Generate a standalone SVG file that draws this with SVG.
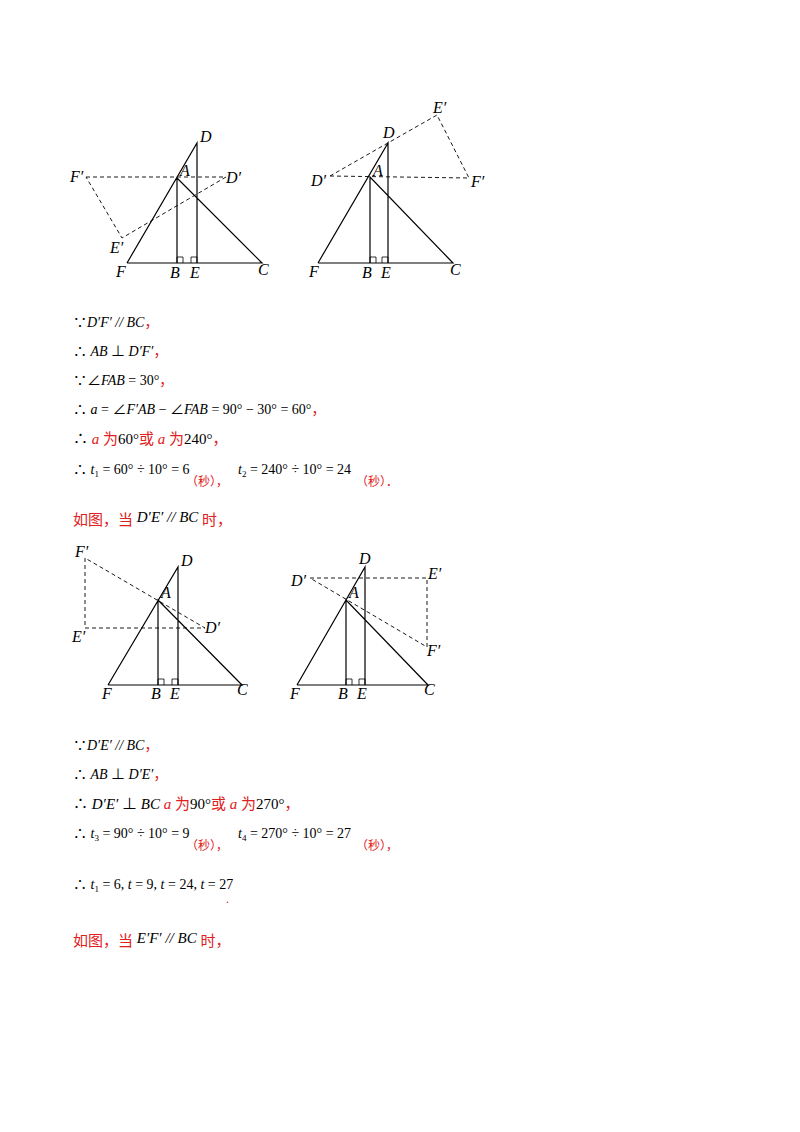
<svg xmlns="http://www.w3.org/2000/svg" width="800" height="1132" viewBox="0 0 800 1132">
<style>
.s{stroke:#000;stroke-width:1.2;fill:none}
.d{stroke:#000;stroke-width:0.9;fill:none;stroke-dasharray:4 3}
.r{stroke:#000;stroke-width:0.8;fill:none}
.l{font-family:"Liberation Serif",serif;font-style:italic;font-size:16px}
.t{font-family:"Liberation Serif","Noto Sans CJK SC",serif;font-size:14px}
.i{font-style:italic}
.red{fill:#e02020}
</style>
<rect width="800" height="1132" fill="#fff"/>
<g id="fig1">
<path class="s" d="M127 263L197 143V263M127 263H262L177 178V263"/>
<path class="r" d="M177 263v-6h6v6M197 263v-6h-6v6"/>
<path class="d" d="M86 177H226L122 238Z"/>
<text class="l" x="200" y="142">D</text><text class="l" x="180" y="176">A</text>
<text class="l" x="70" y="182">F′</text><text class="l" x="226" y="183">D′</text>
<text class="l" x="110" y="253">E′</text><text class="l" x="116" y="277">F</text>
<text class="l" x="170" y="278">B</text><text class="l" x="190" y="278">E</text><text class="l" x="258" y="275">C</text>
</g>
<g id="fig2">
<path class="s" d="M318 263L388 143V263M318 263H453L370 177V263"/>
<path class="r" d="M370 263v-6h6v6M388 263v-6h-6v6"/>
<path class="d" d="M330 176L469 178L437 115Z"/>
<text class="l" x="383" y="138">D</text><text class="l" x="373" y="176">A</text>
<text class="l" x="311" y="186">D′</text><text class="l" x="471" y="187">F′</text>
<text class="l" x="433" y="113">E′</text><text class="l" x="309" y="277">F</text>
<text class="l" x="362" y="278">B</text><text class="l" x="381" y="278">E</text><text class="l" x="450" y="275">C</text>
</g>
<g id="text1" class="t">
<text x="73" y="327">∵<tspan class="i">D′F′ // BC</tspan><tspan class="red">，</tspan></text>
<text x="73" y="356">∴ <tspan class="i">AB</tspan> ⊥ <tspan class="i">D′F′</tspan><tspan class="red">，</tspan></text>
<text x="73" y="385">∵∠<tspan class="i">FAB</tspan> = 30°<tspan class="red">，</tspan></text>
<text x="73" y="414">∴ <tspan class="i">a</tspan> = ∠<tspan class="i">F′AB</tspan> − ∠<tspan class="i">FAB</tspan> = 90° − 30° = 60°<tspan class="red">，</tspan></text>
<text x="73" y="444" font-size="15"><tspan>∴ </tspan><tspan class="red i">a</tspan><tspan class="red"> 为</tspan>60°<tspan class="red">或 </tspan><tspan class="red i">a</tspan><tspan class="red"> 为</tspan>240°<tspan class="red">，</tspan></text>
<text x="73" y="474">∴ <tspan class="i">t</tspan><tspan font-size="9" dy="3">1</tspan><tspan dy="-3"> = 60° ÷ 10° = 6</tspan></text>
<text x="186" y="486" class="red" font-size="12">（秒），</text>
<text x="238" y="474"><tspan class="i">t</tspan><tspan font-size="9" dy="3">2</tspan><tspan dy="-3"> = 240° ÷ 10° = 24</tspan></text>
<text x="356" y="486" class="red" font-size="12">（秒）．</text>
<text x="73" y="525" font-size="15"><tspan class="red">如图，当 </tspan><tspan class="i" dy="-3">D′E′ // BC</tspan><tspan class="red" dy="3"> 时，</tspan></text>
</g>
<g id="fig3">
<path class="s" d="M108 685L178 567V685M108 685H242L158 600V685"/>
<path class="r" d="M158 685v-6h6v6M178 685v-6h-6v6"/>
<path class="d" d="M85 558V628H205Z"/>
<text class="l" x="181" y="566">D</text><text class="l" x="161" y="598">A</text>
<text class="l" x="75" y="557">F′</text><text class="l" x="205" y="633">D′</text>
<text class="l" x="72" y="642">E′</text><text class="l" x="102" y="699">F</text>
<text class="l" x="151" y="699">B</text><text class="l" x="170" y="699">E</text><text class="l" x="237" y="695">C</text>
</g>
<g id="fig4">
<path class="s" d="M297 685L365 567V685M297 685H428L346 600V685"/>
<path class="r" d="M346 685v-6h6v6M365 685v-6h-6v6"/>
<path class="d" d="M310 578H427V647Z"/>
<text class="l" x="359" y="564">D</text><text class="l" x="349" y="598">A</text>
<text class="l" x="291" y="586">D′</text><text class="l" x="428" y="579">E′</text>
<text class="l" x="427" y="656">F′</text><text class="l" x="290" y="699">F</text>
<text class="l" x="338" y="699">B</text><text class="l" x="357" y="699">E</text><text class="l" x="424" y="695">C</text>
</g>
<g id="text2" class="t">
<text x="73" y="750">∵<tspan class="i">D′E′ // BC</tspan><tspan class="red">，</tspan></text>
<text x="73" y="779">∴ <tspan class="i">AB</tspan> ⊥ <tspan class="i">D′E′</tspan><tspan class="red">，</tspan></text>
<text x="73" y="809" font-size="15">∴ <tspan class="i">D′E′</tspan> ⊥ <tspan class="i">BC</tspan> <tspan class="red i">a</tspan><tspan class="red"> 为</tspan>90°<tspan class="red">或 </tspan><tspan class="red i">a</tspan><tspan class="red"> 为</tspan>270°<tspan class="red">，</tspan></text>
<text x="73" y="838">∴ <tspan class="i">t</tspan><tspan font-size="9" dy="3">3</tspan><tspan dy="-3"> = 90° ÷ 10° = 9</tspan></text>
<text x="186" y="850" class="red" font-size="12">（秒），</text>
<text x="238" y="838"><tspan class="i">t</tspan><tspan font-size="9" dy="3">4</tspan><tspan dy="-3"> = 270° ÷ 10° = 27</tspan></text>
<text x="356" y="850" class="red" font-size="12">（秒），</text>
<text x="73" y="889">∴ <tspan class="i">t</tspan><tspan font-size="9" dy="3">1</tspan><tspan dy="-3"> = 6, </tspan><tspan class="i">t</tspan> = 9, <tspan class="i">t</tspan> = 24, <tspan class="i">t</tspan> = 27</text>
<text x="226" y="903" class="red" font-size="12">.</text>
<text x="73" y="946" font-size="15"><tspan class="red">如图，当 </tspan><tspan class="i" dy="-3">E′F′ // BC</tspan><tspan class="red" dy="3"> 时，</tspan></text>
</g>
</svg>
